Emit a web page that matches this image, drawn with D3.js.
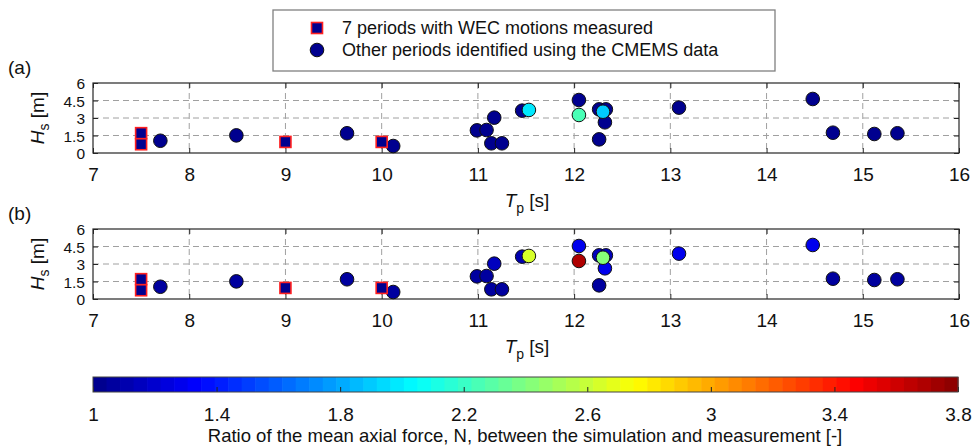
<!DOCTYPE html>
<html><head><meta charset="utf-8">
<script src="https://cdn.jsdelivr.net/npm/d3@7"></script>
<style>
body{margin:0;background:#fff}
text{font-family:"Liberation Sans",Arial,sans-serif;fill:#111}
</style></head>
<body><svg id="c" width="973" height="447"></svg>
<script>
// ---- data ----
const tpTicks = [7, 8, 9, 10, 11, 12, 13, 14, 15, 16];
const hsTicks = [0, 1.5, 3, 4.5, 6];
const hsTickLabels = ["0", "1.5", "3", "4.5", "6"];
const cbTicks = [1, 1.4, 1.8, 2.2, 2.6, 3, 3.4, 3.8];
const cbTickLabels = ["1", "1.4", "1.8", "2.2", "2.6", "3", "3.4", "3.8"];

// 7 periods with WEC motions measured (squares)
const measTp = [7.5, 7.5, 9.0, 10.0];
const measHs = [1.7, 0.75, 0.95, 0.95];
const measN = [1.0, 1.0, 1.0, 1.0];

// other periods identified using CMEMS data (circles)
const otherTp = [7.70, 8.49, 9.64, 10.12, 10.99, 11.09, 11.17, 11.14, 11.25, 11.46, 11.53, 12.05, 12.05, 12.26, 12.33, 12.30, 12.32, 12.26, 13.09, 14.48, 14.69, 15.12, 15.36];
const otherHs = [1.05, 1.51, 1.69, 0.60, 1.94, 1.97, 3.03, 0.83, 0.83, 3.63, 3.69, 4.54, 3.26, 3.74, 3.74, 3.54, 2.63, 1.17, 3.89, 4.63, 1.74, 1.63, 1.69];
const otherNa = [1.02, 1.02, 1.02, 1.02, 1.02, 1.02, 1.02, 1.02, 1.02, 1.02, 2.00, 1.02, 2.26, 1.02, 1.02, 1.90, 1.02, 1.02, 1.02, 1.02, 1.02, 1.02, 1.02];
const otherNb = [1.05, 1.06, 1.05, 1.05, 1.05, 1.08, 1.15, 1.05, 1.05, 1.12, 2.62, 1.28, 3.68, 1.15, 1.15, 2.42, 1.30, 1.05, 1.28, 1.30, 1.05, 1.05, 1.05];

const panelLabels = ["(a)", "(b)"];
const legendLabels = ["7 periods with WEC motions measured", "Other periods identified using the CMEMS data"];
const cbTitle = "Ratio of the mean axial force, N, between the simulation and measurement [-]";

// ---- helpers ----
function jet(v) {
  let t = (v - 1) / 2.8;
  t = Math.max(0, Math.min(1, t));
  const i = Math.min(63, Math.floor(t * 64));
  const x = (i + 1) / 65;
  const c = k => Math.max(0, Math.min(1, 1.5 - Math.abs(4 * x - k)));
  return d3.rgb(c(3) * 255, c(2) * 255, c(1) * 255).formatHex();
}

const svg = d3.select("#c");
const x = d3.scaleLinear().domain([7, 16]).range([93, 959]);
const fontAx = 19, fontTick = 19, fontYTick = 15.5;
const FF = '"Liberation Sans",Arial,sans-serif';

function panel(top, nVals, label) {
  const bottom = top + 70;
  const y = d3.scaleLinear().domain([0, 6]).range([bottom, top]);
  const g = svg.append("g");
  g.append("rect").attr("x", 93).attr("y", top).attr("width", 866).attr("height", 70).attr("fill", "#fff");
  // grid
  g.selectAll(".gx").data(tpTicks.slice(1, -1)).join("line")
    .attr("x1", d => x(d)).attr("x2", d => x(d)).attr("y1", top).attr("y2", bottom)
    .attr("stroke", "#a0a0a0").attr("stroke-dasharray", "6,4").attr("stroke-width", 1);
  g.selectAll(".gy").data(hsTicks.slice(1, -1)).join("line")
    .attr("x1", 93).attr("x2", 959).attr("y1", d => y(d)).attr("y2", d => y(d))
    .attr("stroke", "#a0a0a0").attr("stroke-dasharray", "6,4").attr("stroke-width", 1);
  // axes
  const ax = g.append("g").attr("transform", `translate(0,${bottom})`)
    .call(d3.axisBottom(x).tickValues(tpTicks).tickSizeInner(-5).tickSizeOuter(0).tickPadding(15));
  const axT = g.append("g").attr("transform", `translate(0,${top})`)
    .call(d3.axisTop(x).tickValues(tpTicks).tickSizeInner(-5).tickSizeOuter(0).tickFormat(""));
  const ay = g.append("g").attr("transform", `translate(93,0)`)
    .call(d3.axisLeft(y).tickValues(hsTicks).tickSizeInner(-5).tickSizeOuter(0).tickPadding(8)
      .tickFormat((d, i) => hsTickLabels[i]));
  const ayR = g.append("g").attr("transform", `translate(959,0)`)
    .call(d3.axisRight(y).tickValues(hsTicks).tickSizeInner(-5).tickSizeOuter(0).tickFormat(""));
  [ax, axT, ay, ayR].forEach(a => {
    a.select(".domain").remove();
    a.selectAll("line").attr("stroke", "#262626");
    a.selectAll("text").attr("font-size", fontTick).attr("fill", "#111").attr("font-family", FF);
  });
  ay.selectAll("text").attr("dy", "0.36em").attr("font-size", fontYTick);
  ax.selectAll("text").attr("dy", "0.71em");
  g.append("rect").attr("x", 93).attr("y", top).attr("width", 866).attr("height", 70)
    .attr("fill", "none").attr("stroke", "#262626").attr("stroke-width", 1.2);

  // points: circles sorted by value
  const idx = d3.range(otherTp.length).sort((a, b) => nVals[a] - nVals[b]);
  g.selectAll(".pt").data(idx).join("circle")
    .attr("cx", i => x(otherTp[i])).attr("cy", i => y(otherHs[i])).attr("r", 6.8)
    .attr("fill", i => jet(nVals[i])).attr("stroke", "#111").attr("stroke-width", 1);
  g.selectAll(".sq").data(d3.range(measTp.length)).join("rect")
    .attr("x", i => x(measTp[i]) - 5.5).attr("y", i => y(measHs[i]) - 5.5)
    .attr("width", 11).attr("height", 11)
    .attr("fill", i => jet(measN[i])).attr("stroke", "#ff2020").attr("stroke-width", 1.6);

  // labels
  const yl = g.append("text").attr("transform", `translate(44,${top + 35}) rotate(-90)`)
    .attr("text-anchor", "middle").attr("font-size", fontAx);
  yl.append("tspan").attr("font-style", "italic").text("H");
  yl.append("tspan").attr("font-size", 14).attr("dy", 5).text("s");
  yl.append("tspan").attr("dy", -5).text(" [m]");
  const xl = g.append("text").attr("x", 527).attr("y", bottom + 54)
    .attr("text-anchor", "middle").attr("font-size", fontAx);
  xl.append("tspan").attr("font-style", "italic").text("T");
  xl.append("tspan").attr("font-size", 14).attr("dy", 6).text("p");
  xl.append("tspan").attr("dy", -6).text(" [s]");
  g.append("text").attr("x", 8).attr("y", top - 9).attr("font-size", fontTick).text(label);
}

panel(83, otherNa, panelLabels[0]);
panel(229, otherNb, panelLabels[1]);

// legend
const lg = svg.append("g");
lg.append("rect").attr("x", 273).attr("y", 10).attr("width", 502).attr("height", 61)
  .attr("fill", "#fff").attr("stroke", "#808080").attr("stroke-width", 1.3);
lg.append("rect").attr("x", 317 - 5.5).attr("y", 28 - 5.5).attr("width", 11).attr("height", 11)
  .attr("fill", jet(1)).attr("stroke", "#ff2020").attr("stroke-width", 1.6);
lg.append("circle").attr("cx", 317).attr("cy", 50).attr("r", 6.8)
  .attr("fill", jet(1)).attr("stroke", "#111");
lg.selectAll(".lt").data(legendLabels).join("text")
  .attr("x", 342).attr("y", (d, i) => 28 + i * 22).attr("dy", "0.36em")
  .attr("font-size", 18).text(d => d);

// colorbar
const cx = d3.scaleLinear().domain([1, 3.8]).range([93, 958]);
const cbTop = 377, cbH = 15;
const steps = d3.range(64);
svg.append("g").selectAll("rect").data(steps).join("rect")
  .attr("x", i => cx(1 + 2.8 * i / 64)).attr("y", cbTop)
  .attr("width", i => cx(1 + 2.8 * (i + 1) / 64) - cx(1 + 2.8 * i / 64) + 0.6).attr("height", cbH)
  .attr("fill", i => jet(1 + 2.8 * (i + 0.5) / 64));
const cb = svg.append("g").attr("transform", `translate(0,${cbTop + cbH})`)
  .call(d3.axisBottom(cx).tickValues(cbTicks).tickSizeInner(-5).tickSizeOuter(0).tickPadding(16)
    .tickFormat((d, i) => cbTickLabels[i]));
cb.select(".domain").remove();
cb.selectAll("line").attr("stroke", "#222");
cb.selectAll("text").attr("font-size", fontTick).attr("fill", "#111").attr("dy", "0.71em").attr("font-family", FF);
svg.append("rect").attr("x", 93).attr("y", cbTop).attr("width", 865).attr("height", cbH)
  .attr("fill", "none").attr("stroke", "#444").attr("stroke-width", 1);
svg.append("text").attr("x", 525).attr("y", 442).attr("text-anchor", "middle")
  .attr("font-size", 18.5).text(cbTitle);
</script></body></html>
